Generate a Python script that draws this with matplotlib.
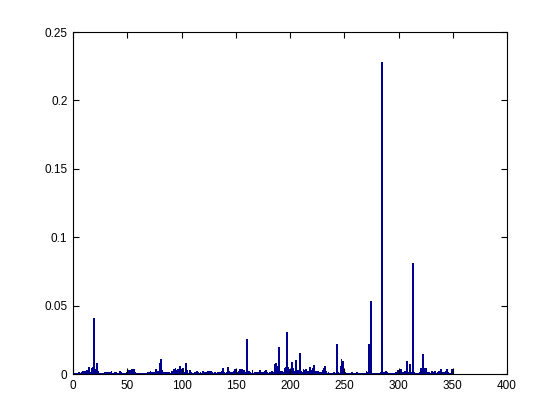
import numpy as np
import matplotlib
matplotlib.use("Agg")
import matplotlib.pyplot as plt

# bar heights, one per index 1..N
vals = [
    .0009, .0011, .0010, .0007, .0012, .0010, .0005, .0013, .0021, .0020,
    .0022, .0031, .0026, .0054, .0009, .0016, .0047, .0052, .0410, .0012,
    .0035, .0078, .0024, .0010, .0008, .0006, .0011, .0009, .0013, .0007,
    .0012, .0018, .0010, .0015, .0020, .0011, .0009, .0016, .0012, .0008,
    .0006, .0010, .0019, .0012, .0007, .0011, .0009, .0005, .0014, .0032,
    .0024, .0030, .0018, .0036, .0027, .0040, .0012, .0006, .0009, .0004,
    .0007, .0011, .0005, .0009, .0003, .0006, .0010, .0008, .0016, .0012,
    .0022, .0014, .0009, .0017, .0011, .0037, .0013, .0020, .0024, .0081,
    .0112, .0030, .0018, .0009, .0012, .0016, .0010, .0014, .0008, .0011,
    .0020, .0015, .0033, .0041, .0028, .0036, .0030, .0062, .0034, .0022,
    .0043, .0018, .0012, .0078, .0031, .0009, .0026, .0014, .0011, .0006,
    .0010, .0017, .0012, .0020, .0015, .0009, .0018, .0011, .0024, .0013,
    .0016, .0008, .0014, .0019, .0010, .0021, .0025, .0012, .0009, .0015,
    .0011, .0007, .0013, .0018, .0010, .0015, .0020, .0044, .0012, .0009,
    .0016, .0054, .0023, .0010, .0017, .0014, .0008, .0019, .0036, .0011,
    .0013, .0021, .0038, .0035, .0040, .0016, .0029, .0012, .0018, .0253,
    .0014, .0022, .0017, .0011, .0031, .0009, .0015, .0012, .0008, .0013,
    .0010, .0030, .0016, .0009, .0012, .0020, .0027, .0014, .0011, .0008,
    .0016, .0013, .0022, .0010, .0018, .0074, .0078, .0062, .0200, .0019,
    .0012, .0025, .0011, .0016, .0042, .0048, .0310, .0052, .0038, .0030,
    .0090, .0045, .0024, .0015, .0101, .0026, .0018, .0030, .0157, .0022,
    .0013, .0037, .0030, .0033, .0021, .0025, .0017, .0051, .0014, .0028,
    .0045, .0063, .0024, .0019, .0022, .0012, .0009, .0016, .0011, .0026,
    .0044, .0060, .0020, .0008, .0013, .0010, .0006, .0011, .0009, .0012,
    .0007, .0009, .0223, .0018, .0011, .0059, .0112, .0096, .0040, .0015,
    .0006, .0010, .0008, .0005, .0009, .0007, .0012, .0006, .0004, .0008,
    .0017, .0011, .0007, .0005, .0009, .0006, .0008, .0004, .0010, .0021,
    .0012, .0220, .0015, .0534, .0008, .0006, .0004, .0009, .0007, .0011,
    .0010, .0005, .0014, .2283, .0012, .0008, .0015, .0021, .0017, .0010,
    .0008, .0006, .0011, .0009, .0007, .0010, .0012, .0008, .0031, .0014,
    .0029, .0033, .0016, .0018, .0021, .0025, .0098, .0015, .0011, .0070,
    .0012, .0009, .0813, .0017, .0010, .0008, .0006, .0011, .0013, .0042,
    .0040, .0146, .0041, .0012, .0044, .0018, .0014, .0016, .0010, .0021,
    .0009, .0013, .0019, .0007, .0011, .0015, .0022, .0017, .0036, .0012,
    .0012, .0016, .0021, .0037, .0015, .0009, .0011, .0006, .0040, .0004,
    .0002, .0001,
]
xticks = [0, 50, 100, 150, 200, 250, 300, 350, 400]
yticks = [0, 0.05, 0.1, 0.15, 0.2, 0.25]
ytick_labels = ["0", "0.05", "0.1", "0.15", "0.2", "0.25"]

plt.rcParams["font.family"] = ["Liberation Sans", "DejaVu Sans"]

fig = plt.figure(figsize=(5.6, 4.2), dpi=100)
ax = fig.add_axes([0.1304, 0.1095, 0.7750, 0.8143])

x = np.arange(1, len(vals) + 1)
ax.bar(x, vals, width=0.8, color="#00008F", edgecolor="#00008F",
       linewidth=0.6, antialiased=False)

ax.set_xlim(0, 400)
ax.set_ylim(0, 0.25)
ax.set_xticks(xticks)
ax.set_yticks(yticks)
ax.set_yticklabels(ytick_labels)
ax.tick_params(direction="in", top=True, right=True, length=4, width=0.8,
               labelsize=8.5, pad=4)
for s in ax.spines.values():
    s.set_linewidth(0.8)

fig.savefig("out.png", dpi=100)
